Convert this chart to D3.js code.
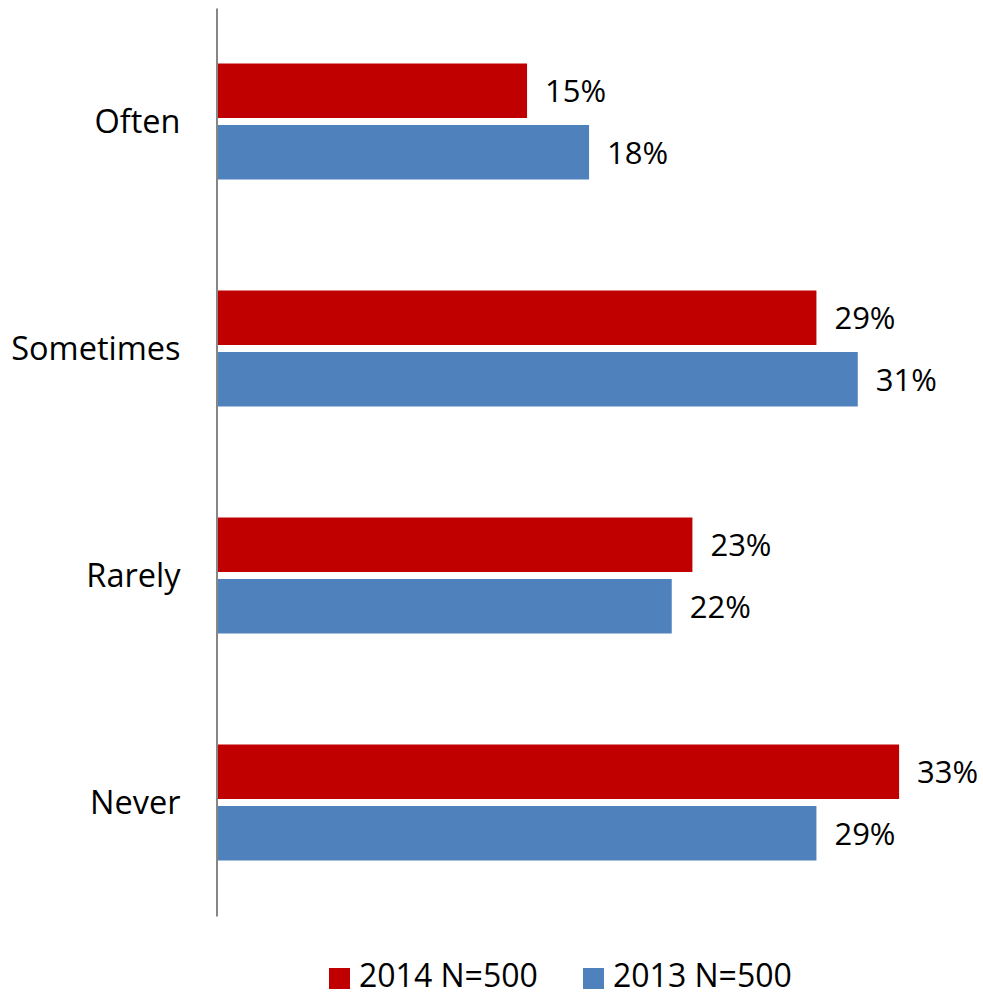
<!DOCTYPE html>
<html><head><meta charset="utf-8">
<script src="https://cdn.jsdelivr.net/npm/d3@7"></script>
<style>body{margin:0;background:#fff;} svg{display:block;}</style>
</head><body>
<script>
const categories = ["Often", "Sometimes", "Rarely", "Never"];
const seriesNames = ["2014 N=500", "2013 N=500"];
const values2014 = [0.15, 0.29, 0.23, 0.33];
const values2013 = [0.18, 0.31, 0.22, 0.29];
const colors = ["#C00000", "#4F81BD"];

const W = 983, H = 996;
const font = "'Open Sans', 'Noto Sans', sans-serif";
const svg = d3.select("body").append("svg").attr("width", W).attr("height", H);

const x = d3.scaleLinear().domain([0, 0.35]).range([217, 217 + 0.35 * 2067]);
const y = d3.scaleBand().domain(categories).range([8, 916]).padding(0);
const inner = d3.scaleBand().domain(seriesNames).range([-58, 58]).paddingInner(0.114);

const data = categories.map((c, i) => ({cat: c, vals: [values2014[i], values2013[i]]}));

const g = svg.append("g");
data.forEach(d => {
  const cy = y(d.cat) + y.bandwidth() / 2;
  d.vals.forEach((v, j) => {
    const s = seriesNames[j];
    g.append("rect")
      .attr("x", x(0)).attr("y", cy + inner(s))
      .attr("width", x(v) - x(0)).attr("height", inner.bandwidth())
      .attr("fill", colors[j]);
    g.append("text")
      .attr("x", x(v) + 18).attr("y", cy + inner(s) + inner.bandwidth() / 2)
      .attr("dy", "0.37em")
      .attr("font-family", font).attr("font-size", 31).attr("fill", "#000")
      .text(d3.format(".0%")(v));
  });
});

// y axis
const yAxis = d3.axisLeft(y).tickSize(0).tickPadding(36);
const ax = svg.append("g").attr("transform", `translate(216.5,0)`).call(yAxis);
ax.select(".domain").attr("stroke", "#868686").attr("stroke-width", 2);
ax.selectAll("text").attr("font-family", font).attr("font-size", 32.5).attr("fill", "#000").attr("dy", "0.36em");

// legend
const legendItems = [{name: seriesNames[0], color: colors[0], x: 329}, {name: seriesNames[1], color: colors[1], x: 583}];
const lg = svg.append("g");
legendItems.forEach(it => {
  lg.append("rect").attr("x", it.x).attr("y", 968).attr("width", 21).attr("height", 21).attr("fill", it.color);
  lg.append("text").attr("x", it.x + 30).attr("y", 987)
    .attr("font-family", font).attr("font-size", 32).attr("fill", "#000")
    .text(it.name);
});
</script>
</body></html>
